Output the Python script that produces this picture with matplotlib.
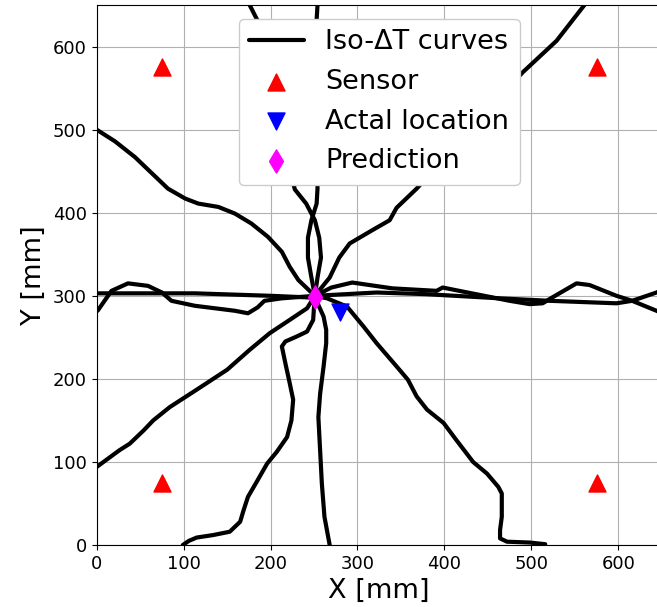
import matplotlib
matplotlib.use("Agg")
import matplotlib.pyplot as plt

# Sensors, actual location, prediction
sensor_x = [75, 575, 75, 575]
sensor_y = [575, 575, 75, 75]
actual_x = [280]
actual_y = [280]
pred_x = [251]
pred_y = [299]

# Iso-dT curves
curve_a_x = [0, 21, 44, 63, 82, 102, 117, 140, 159, 178, 197, 213, 222, 232, 251]
curve_a_y = [500, 486, 467, 448, 429, 417, 411, 407, 399, 387, 371, 353, 335, 319, 300]

curve_b_x = [0, 26, 38, 54, 65, 84, 115, 150, 176, 199, 222, 242, 251]
curve_b_y = [94, 114, 122, 138, 150, 166, 187, 211, 235, 255, 271, 285, 300]

curve_c_x = [99, 106, 115, 134, 153, 165, 169, 174, 184, 196, 207, 219, 224, 226, 222,
             217, 213, 217, 230, 242, 249, 250, 251]
curve_c_y = [0, 5, 9, 12, 16, 28, 42, 58, 76, 98, 112, 130, 150, 175, 195,
             219, 239, 245, 251, 257, 271, 287, 300]

curve_d_x = [268, 262, 259, 257, 255, 257, 261, 264, 264, 261, 255, 251]
curve_d_y = [0, 34, 74, 114, 154, 182, 215, 243, 259, 275, 289, 300]

curve_e_x = [176, 191, 203, 214, 228, 241, 251, 256, 258, 254, 251]
curve_e_y = [650, 619, 560, 480, 428, 411, 391, 370, 346, 322, 300]

curve_f_x = [254, 252, 253, 254, 253, 247, 243, 243, 247, 251]
curve_f_y = [650, 615, 520, 429, 411, 391, 370, 346, 322, 300]

curve_g_x = [561, 529, 490, 430, 368, 345, 337, 317, 291, 279, 268, 251]
curve_g_y = [650, 607, 569, 500, 429, 406, 391, 379, 363, 346, 322, 300]

curve_h1_x = [0, 113, 201, 245, 251, 322, 379, 463, 521, 598, 616, 644, 650]
curve_h1_y = [303, 303, 300, 298, 300, 304, 302, 297, 294, 291, 294, 304, 307]

curve_h2_x = [1, 17, 36, 59, 75, 86, 113, 159, 174, 185, 193, 213, 251]
curve_h2_y = [282, 306, 315, 312, 304, 294, 288, 282, 279, 286, 294, 297, 300]

curve_r1_x = [251, 270, 294, 340, 391, 398, 417, 475, 498, 513, 524, 552, 567, 598, 616, 644, 650]
curve_r1_y = [300, 310, 316, 309, 306, 310, 306, 294, 290, 291, 298, 315, 313, 300, 294, 282, 279]

curve_i_x = [251, 265, 288, 307, 322, 345, 358, 368, 380, 399, 414, 433, 449, 462, 466,
             466, 464, 464, 472, 498, 516]
curve_i_y = [300, 297, 287, 263, 243, 215, 199, 179, 163, 147, 126, 100, 86, 70, 62,
             34, 18, 8, 4, 3, 1]

curves = [
    (curve_a_x, curve_a_y), (curve_b_x, curve_b_y), (curve_c_x, curve_c_y),
    (curve_d_x, curve_d_y), (curve_e_x, curve_e_y), (curve_f_x, curve_f_y),
    (curve_g_x, curve_g_y), (curve_h1_x, curve_h1_y), (curve_h2_x, curve_h2_y),
    (curve_r1_x, curve_r1_y), (curve_i_x, curve_i_y),
]

fig = plt.figure(figsize=(6.57, 6.07), dpi=100)
ax = fig.add_axes([0.1472, 0.1021, 0.8600, 0.8895])

for i, (cx, cy) in enumerate(curves):
    ax.plot(cx, cy, color="black", lw=3, solid_capstyle="round", solid_joinstyle="round",
            label="Iso-ΔT curves" if i == 0 else None, zorder=2)

ax.scatter(sensor_x, sensor_y, marker="^", color="red", s=150, label="Sensor", zorder=3)
ax.scatter(actual_x, actual_y, marker="v", color="blue", s=150, label="Actal location", zorder=3)
ax.scatter(pred_x, pred_y, marker="d", color="magenta", s=140, label="Prediction", zorder=4)

ax.set_xlim(0, 650)
ax.set_ylim(0, 650)
ax.set_xticks([0, 100, 200, 300, 400, 500, 600])
ax.set_yticks([0, 100, 200, 300, 400, 500, 600])
ax.tick_params(labelsize=13)
ax.set_xlabel("X [mm]", fontsize=19.5)
ax.set_ylabel("Y [mm]", fontsize=19.5)
ax.grid(True)
ax.set_axisbelow(True)

ax.legend(loc="upper center", fontsize=19.5, framealpha=1)

fig.savefig("out.png", dpi=100)
